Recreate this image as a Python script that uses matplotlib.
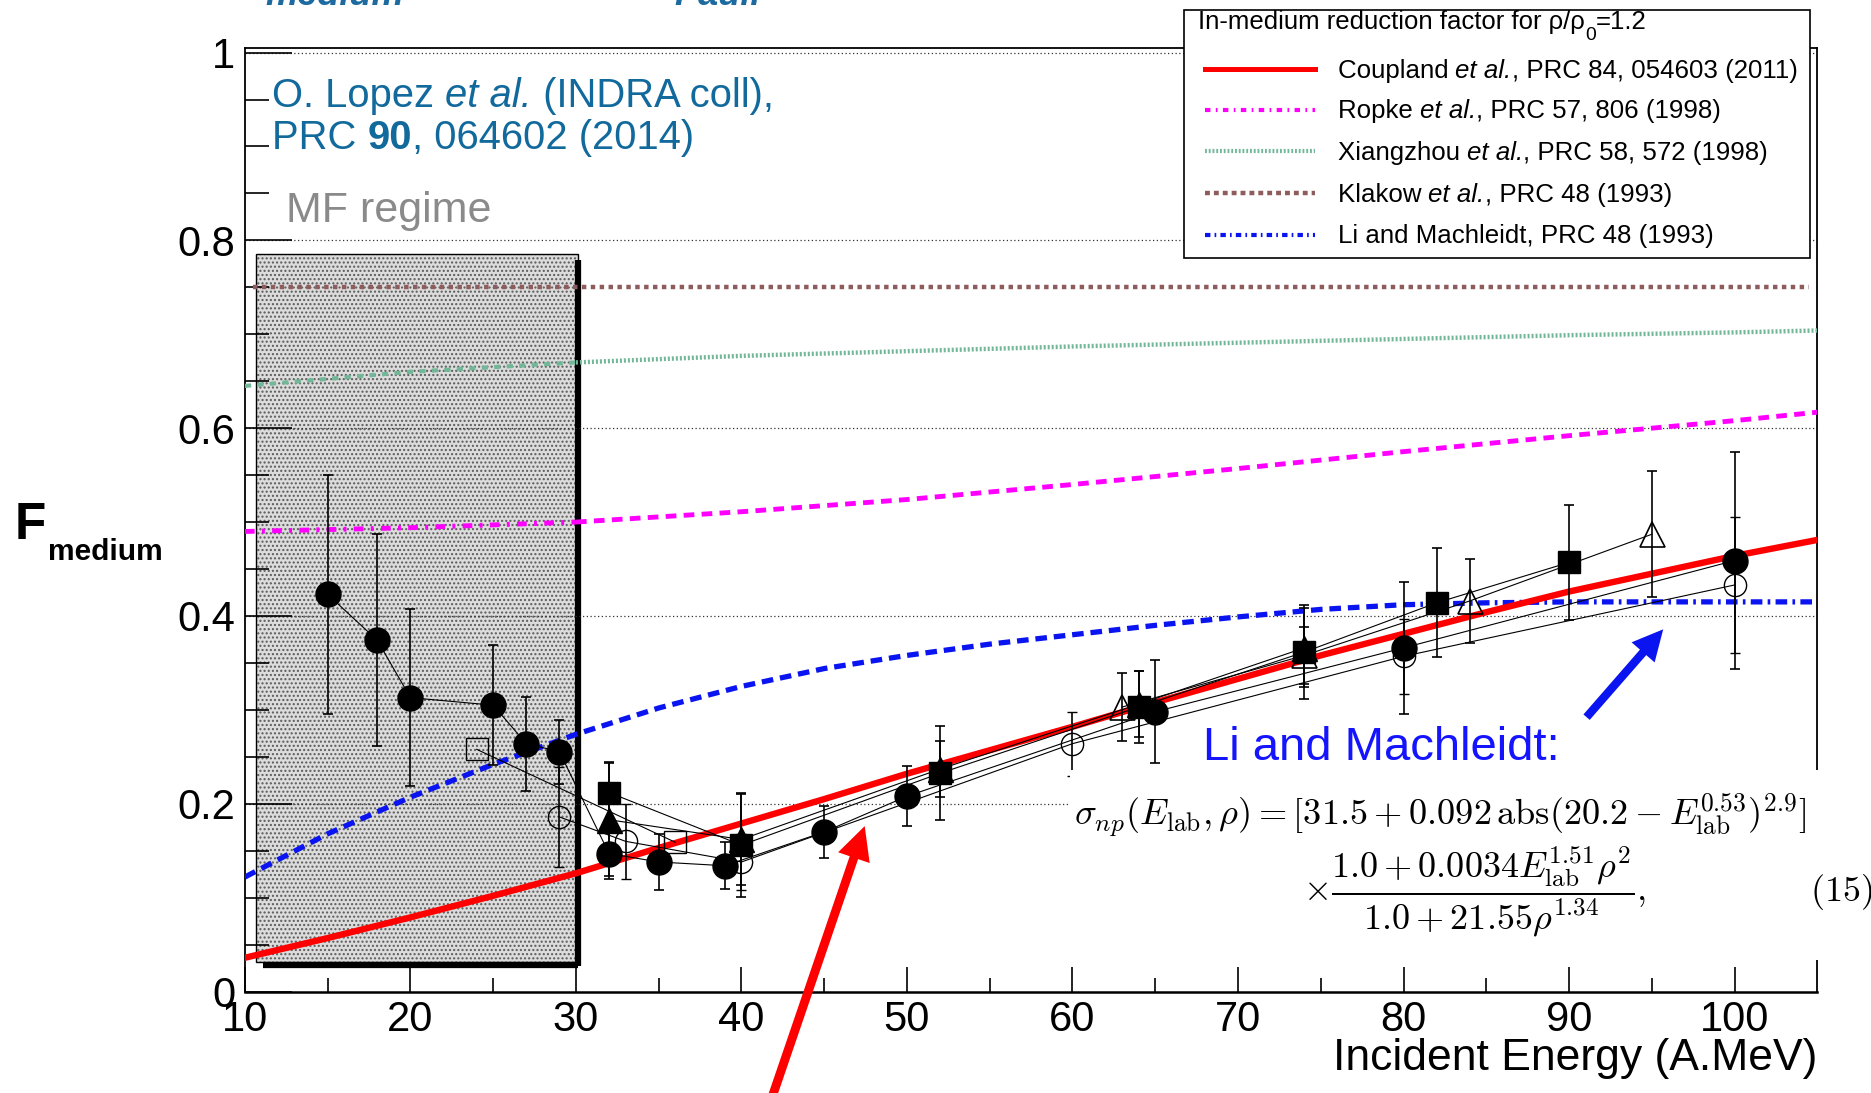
import matplotlib
matplotlib.use("Agg")
import matplotlib.pyplot as plt
from matplotlib.patches import Rectangle
from matplotlib.lines import Line2D

plt.rcParams['font.family'] = ['Liberation Sans', 'DejaVu Sans']

# ---------------- data ----------------
energy_curve = [10, 15, 20, 25, 30, 35, 40, 45, 50, 55, 60, 65, 70, 75, 80, 85, 90, 95, 100, 105]
coupland = [0.036, 0.057, 0.079, 0.102, 0.126, 0.153, 0.179, 0.205, 0.232, 0.257,
            0.282, 0.308, 0.333, 0.358, 0.381, 0.404, 0.426, 0.445, 0.464, 0.481]
li_machleidt = [0.122, 0.168, 0.207, 0.242, 0.274, 0.302, 0.325, 0.344, 0.358, 0.370,
                0.380, 0.390, 0.399, 0.407, 0.412, 0.414, 0.415, 0.415, 0.415, 0.415]
energy_coarse = [10, 20, 30, 40, 50, 60, 70, 80, 90, 100, 105]
ropke = [0.490, 0.494, 0.500, 0.511, 0.524, 0.540, 0.557, 0.575, 0.592, 0.608, 0.617]
xiangzhou = [0.645, 0.660, 0.670, 0.677, 0.682, 0.687, 0.691, 0.695, 0.699, 0.702, 0.704]
klakow_energy = [10.5, 104.5]
klakow = [0.75, 0.75]

# INDRA data (several systems)
fc_e = [15, 18, 20, 25, 27, 29, 32, 35, 39, 45, 50, 65, 80, 100]
fc_f = [0.423, 0.374, 0.313, 0.305, 0.264, 0.2555, 0.147, 0.138, 0.134, 0.170, 0.208, 0.298, 0.366, 0.459]
fc_err = [0.127, 0.113, 0.094, 0.064, 0.050, 0.034, 0.027, 0.030, 0.025, 0.028, 0.032, 0.055, 0.070, 0.116]

fs_e = [32, 40, 52, 64, 74, 82, 90]
fs_f = [0.212, 0.156, 0.2325, 0.303, 0.3615, 0.414, 0.457]
fs_err = [0.033, 0.055, 0.050, 0.038, 0.050, 0.058, 0.061]

ft_e = [32, 40, 52, 64, 74]
ft_f = [0.183, 0.162, 0.237, 0.306, 0.366]
ft_err = [0.060, 0.048, 0.030, 0.035, 0.042]

oc_e = [29, 33, 40, 60, 80, 100]
oc_f = [0.186, 0.160, 0.138, 0.264, 0.357, 0.433]
oc_err = [0.053, 0.040, 0.030, 0.034, 0.040, 0.072]

ot_e = [63, 74, 84, 95]
ot_f = [0.303, 0.358, 0.416, 0.487]
ot_err = [0.036, 0.030, 0.045, 0.067]

os_e = [24, 36]
os_f = [0.258, 0.159]

x_major = [10, 20, 30, 40, 50, 60, 70, 80, 90, 100]
x_labels = ['10', '20', '30', '40', '50', '60', '70', '80', '90', '100']
x_minor = [15, 25, 35, 45, 55, 65, 75, 85, 95]
y_major = [0, 0.2, 0.4, 0.6, 0.8, 1.0]
y_labels = ['0', '0.2', '0.4', '0.6', '0.8', '1']
y_minor = [0.05, 0.1, 0.15, 0.25, 0.3, 0.35, 0.45, 0.5, 0.55, 0.65, 0.7, 0.75, 0.85, 0.9, 0.95]

legend_labels = [
    ('Coupland ', 'et al.', ', PRC 84, 054603 (2011)'),
    ('Ropke ', 'et al.', ', PRC 57, 806 (1998)'),
    ('Xiangzhou ', 'et al.', ', PRC 58, 572 (1998)'),
    ('Klakow ', 'et al.', ', PRC 48 (1993)'),
    ('Li and Machleidt, PRC 48 (1993)', '', ''),
]

# MF regime box (energy range, F range)
mf_e = (10.7, 30.1)
mf_f = (0.031, 0.785)

# ---------------- figure ----------------
fig = plt.figure(figsize=(18.71, 10.93), dpi=100)
renderer = fig.canvas.get_renderer()


def rich_text(x, y, pieces, fontsize, color='black', va='baseline', zorder=11):
    """pieces: list of (text, dict(style), dy_fraction, size_factor)"""
    cur = x
    for piece in pieces:
        s, kw = piece[0], piece[1]
        dy = piece[2] if len(piece) > 2 else 0.0
        fs = fontsize * (piece[3] if len(piece) > 3 else 1.0)
        fig.text(cur, y + dy, s, fontsize=fs, color=color, va=va, ha='left', zorder=zorder, **kw)
        t1 = fig.text(0, 0, '|' + s + '|', fontsize=fs, **kw)
        t2 = fig.text(0, 0, '||', fontsize=fs, **kw)
        w = (t1.get_window_extent(renderer).width - t2.get_window_extent(renderer).width)
        t1.remove()
        t2.remove()
        cur += w / fig.bbox.width


ax = fig.add_axes([0.1309, 0.0928, 0.9713 - 0.1309, 0.9562 - 0.0928])
ax.set_xlim(10, 105)
ax.set_ylim(0, 1.005)
ax.set_axisbelow(False)

# MF box
ax.add_patch(Rectangle((mf_e[0], mf_f[0]), mf_e[1] - mf_e[0], mf_f[1] - mf_f[0],
                       facecolor='#dcdcdc', edgecolor='#5a5a5a', hatch='....', lw=0, zorder=1))
ax.add_patch(Rectangle((mf_e[0], mf_f[0]), mf_e[1] - mf_e[0], mf_f[1] - mf_f[0],
                       facecolor='none', edgecolor='black', lw=1.0, zorder=1.2))
ax.plot([mf_e[1], mf_e[1]], [mf_f[0] - 0.004, mf_f[1] - 0.006], color='black', lw=4.5,
        solid_capstyle='butt', zorder=1.3)
ax.plot([mf_e[0] + 0.4, mf_e[1]], [mf_f[0] - 0.003, mf_f[0] - 0.003], color='black', lw=4.5,
        solid_capstyle='butt', zorder=1.3)

ax.yaxis.grid(True, which='major', linestyle=(0, (1, 2)), color='#333333', lw=0.9)


def split(xs, ys, cut, left=True):
    if left:
        px = [x for x in xs if x <= cut]
    else:
        px = [x for x in xs if x >= cut]
    py = [ys[xs.index(x)] for x in px]
    return px, py

# theory curves
ax.plot(klakow_energy, klakow, color='#8e5c5c', lw=3.2, linestyle=(0, (1, 1)), zorder=3)
px, py = split(energy_coarse, xiangzhou, 30, True)
ax.plot(px, py, color='#72b898', lw=3.0, linestyle=(0, (1.5, 1.5)), zorder=3)
px, py = split(energy_coarse, xiangzhou, 30, False)
ax.plot(px, py, color='#72b898', lw=3.2, linestyle=(0, (0.45, 0.45)), zorder=3)
px, py = split(energy_coarse, ropke, 30, True)
ax.plot(px, py, color='#ff00ff', lw=3.5, linestyle=(0, (2, 1.5, 0.6, 1.5)), zorder=3)
px, py = split(energy_coarse, ropke, 30, False)
ax.plot(px, py, color='#ff00ff', lw=3.5, linestyle=(0, (2.2, 1.5)), zorder=3)
px, py = split(energy_curve, li_machleidt, 80, True)
ax.plot(px, py, color='#0a14f0', lw=3.8, linestyle=(0, (2.2, 1.3)), zorder=3)
px, py = split(energy_curve, li_machleidt, 80, False)
ax.plot(px, py, color='#0a14f0', lw=3.8, linestyle=(0, (2.2, 1.0, 0.5, 1.0)), zorder=3)
ax.plot(energy_curve, coupland, color='#ff0000', lw=4.6, zorder=3.5)

# data
eb = dict(color='black', lw=0.8, elinewidth=1.2, capsize=3.5, capthick=1.2, zorder=5)
ax.errorbar(oc_e, oc_f, yerr=oc_err, marker='o', ms=16, mfc='none', mec='black', mew=1.0, **eb)
ax.errorbar(ot_e, ot_f, yerr=ot_err, marker='^', ms=18, mfc='none', mec='black', mew=1.2, **eb)
ax.plot(os_e, os_f, marker='s', ms=16, mfc='none', mec='black', mew=1.0, color='black', lw=0.8, zorder=5)
ax.errorbar(ft_e, ft_f, yerr=ft_err, marker='^', ms=18, mfc='black', mec='black', **eb)
ax.errorbar(fs_e, fs_f, yerr=fs_err, marker='s', ms=16, mfc='black', mec='black', **eb)
ax.errorbar(fc_e, fc_f, yerr=fc_err, marker='o', ms=18, mfc='black', mec='black', **eb)

# axes style
ax.set_xticks(x_major)
ax.set_xticklabels(x_labels)
ax.set_xticks(x_minor, minor=True)
ax.set_yticks(y_major)
ax.set_yticklabels(y_labels)
ax.set_yticks(y_minor, minor=True)
ax.tick_params(axis='x', which='major', direction='in', length=18, width=1.2, pad=6,
               labelsize=30, top=False)
ax.tick_params(axis='x', which='minor', direction='in', length=10, width=1.2, top=False)
ax.tick_params(axis='y', which='major', direction='in', length=34, width=1.2, pad=7,
               labelsize=30, right=False)
ax.tick_params(axis='y', which='minor', direction='in', length=17, width=1.2, right=False)
for s in ax.spines.values():
    s.set_linewidth(1.3)
ax.spines['bottom'].set_linewidth(1.8)

# axis titles
fig.text(0.9713, 0.0215, 'Incident Energy (A.MeV)', ha='right', va='baseline', fontsize=32)
fig.text(0.0076, 0.507, 'F', ha='left', va='baseline', fontsize=37, fontweight='bold')
fig.text(0.0255, 0.488, 'medium', ha='left', va='baseline', fontsize=21.5, fontweight='bold')

# annotations
teal = '#11699c'
IT = dict(fontstyle='italic')
BF = dict(fontweight='bold')
NO = dict()
rich_text(0.1454, 0.902, [('O. Lopez ', NO), ('et al.', IT), (' (INDRA coll),', NO)],
          fontsize=28.8, color=teal)
rich_text(0.1454, 0.8636, [('PRC ', NO), ('90', BF), (', 064602 (2014)', NO)],
          fontsize=28.8, color=teal)
fig.text(0.1530, 0.797, 'MF regime', color='#8a8a8a', fontsize=31, ha='left', va='baseline')
fig.text(0.1416, 0.9954, 'medium', color='#1c6aa0', fontsize=26, fontweight='bold',
         fontstyle='italic', ha='left', va='baseline')
fig.text(0.3603, 0.9954, 'Pauli', color='#1c6aa0', fontsize=26, fontweight='bold',
         fontstyle='italic', ha='left', va='baseline')

# equation panel
fig.add_artist(Rectangle((0.572, 0.1217), 0.428, 0.174, transform=fig.transFigure,
                         facecolor='white', edgecolor='none', zorder=6))
fig.text(0.574, 0.2543,
         r'$\sigma_{np}(E_{\rm lab},\rho) = [31.5 + 0.092\,{\rm abs}(20.2 - E_{\rm lab}^{0.53})^{2.9}]$',
         math_fontfamily='cm', fontsize=26.2, ha='left', va='center', zorder=7)
fig.text(0.6964, 0.1835,
         r'$\times\dfrac{1.0 + 0.0034E_{\rm lab}^{1.51}\rho^2}{1.0 + 21.55\rho^{1.34}},$',
         math_fontfamily='cm', fontsize=26, ha='left', va='center', zorder=7)
fig.text(0.9674, 0.1835, r'$(15)$', math_fontfamily='cm', fontsize=26, ha='left',
         va='center', zorder=7)

fig.text(0.643, 0.3047, 'Li and Machleidt:', color='#1414ff', fontsize=34, ha='left',
         va='baseline', zorder=8)

# arrows
ax.annotate('', xy=(47.5, 0.179), xytext=(41.8, -0.115), xycoords='data',
            annotation_clip=False,
            arrowprops=dict(arrowstyle='simple,head_length=1.2,head_width=1.2,tail_width=0.32',
                            mutation_scale=20, color='#ff0000', lw=0))
ax.annotate('', xy=(95.8, 0.388), xytext=(90.95, 0.29), xycoords='data',
            annotation_clip=False,
            arrowprops=dict(arrowstyle='simple,head_length=1.1,head_width=1.1,tail_width=0.3',
                            mutation_scale=20, color='#0a14f0', lw=0))

# legend (manual)
fig.add_artist(Rectangle((0.6326, 0.7642), 0.3348, 0.2271, transform=fig.transFigure,
                         facecolor='white', edgecolor='black', lw=1.2, zorder=10))
rich_text(0.6403, 0.9735, [('In-medium reduction factor for \u03c1/\u03c1', NO),
                           ('0', NO, -0.010, 0.75), ('=1.2', NO)], fontsize=18.5)
leg_y = [0.9367, 0.8995, 0.8614, 0.8231, 0.785]
leg_styles = [
    dict(color='#ff0000', lw=3.6, linestyle='-'),
    dict(color='#ff00ff', lw=3.0, linestyle=(0, (1.3, 1.3, 0.4, 1.3))),
    dict(color='#72b898', lw=3.0, linestyle=(0, (0.45, 0.45))),
    dict(color='#8e5c5c', lw=3.2, linestyle=(0, (1.1, 0.9))),
    dict(color='#0a14f0', lw=3.0, linestyle=(0, (1.3, 1.0, 0.4, 1.0))),
]
for y, st, (a, b, c) in zip(leg_y, leg_styles, legend_labels):
    fig.add_artist(Line2D([0.644, 0.7028], [y, y], transform=fig.transFigure, zorder=11, **st))
    pieces = [(a, NO)]
    if b:
        pieces += [(b, IT), (c, NO)]
    rich_text(0.7149, y - 0.0077, pieces, fontsize=18.6)

fig.savefig('out.png', dpi=100)
